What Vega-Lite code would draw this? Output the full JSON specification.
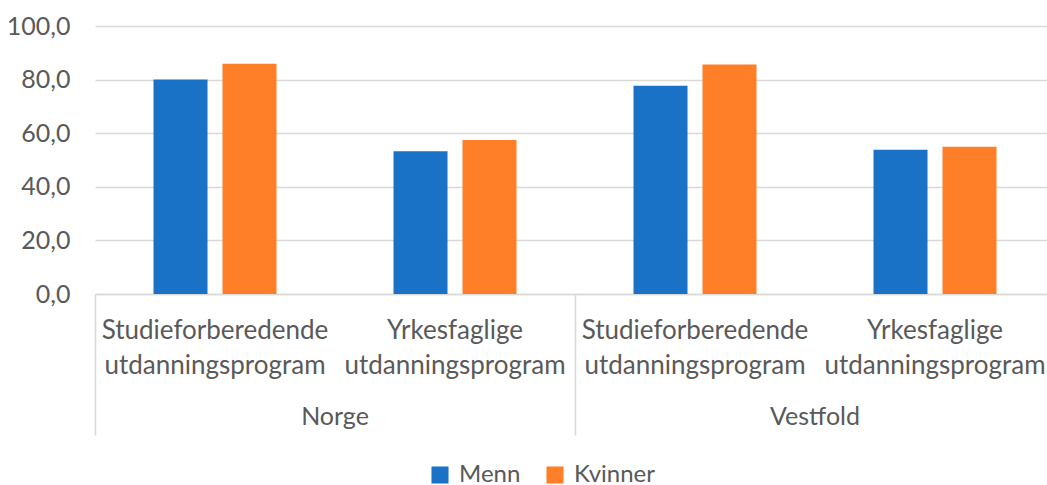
{
  "$schema": "https://vega.github.io/schema/vega-lite/v6.json",
  "autosize": "none",
  "width": 960,
  "height": 268,
  "padding": {"left": 95, "top": 26, "right": 0, "bottom": 191},
  "background": "white",
  "config": {
    "font": "Lato",
    "view": {"stroke": null},
    "axis": {"labelFont": "Lato", "labelColor": "#595959", "labelFontSize": 25}
  },
  "data": {
    "values": [
      {"region": "Norge", "group": "Norge|Studieforberedende", "gender": "Menn", "value": 80.0},
      {"region": "Norge", "group": "Norge|Studieforberedende", "gender": "Kvinner", "value": 85.9},
      {"region": "Norge", "group": "Norge|Yrkesfaglige", "gender": "Menn", "value": 53.3},
      {"region": "Norge", "group": "Norge|Yrkesfaglige", "gender": "Kvinner", "value": 57.5},
      {"region": "Vestfold", "group": "Vestfold|Studieforberedende", "gender": "Menn", "value": 77.7},
      {"region": "Vestfold", "group": "Vestfold|Studieforberedende", "gender": "Kvinner", "value": 85.6},
      {"region": "Vestfold", "group": "Vestfold|Yrkesfaglige", "gender": "Menn", "value": 53.8},
      {"region": "Vestfold", "group": "Vestfold|Yrkesfaglige", "gender": "Kvinner", "value": 54.9}
    ]
  },
  "layer": [
    {
      "mark": {"type": "bar"},
      "encoding": {
        "x": {
          "field": "group",
          "type": "nominal",
          "sort": null,
          "scale": {"paddingInner": 0, "paddingOuter": 0},
          "axis": {
            "title": null,
            "labelAngle": 0,
            "ticks": false,
            "domainColor": "#d9d9d9",
            "domainWidth": 1.5,
            "labelPadding": 23,
            "labelLineHeight": 35,
            "labelBaseline": "top",
            "labelOverlap": false,
            "labelLimit": 0,
            "labelFontSize": 26,
            "labelExpr": "[split(datum.label, '|')[1], 'utdanningsprogram']"
          }
        },
        "xOffset": {
          "field": "gender",
          "type": "nominal",
          "sort": ["Menn", "Kvinner"],
          "scale": {"paddingInner": 0.217, "paddingOuter": 0.848}
        },
        "y": {
          "field": "value",
          "type": "quantitative",
          "scale": {"domain": [0, 100]},
          "axis": {
            "title": null,
            "values": [0, 20, 40, 60, 80, 100],
            "domain": false,
            "ticks": false,
            "labelPadding": 25,
            "labelOverlap": false,
            "gridColor": "#d9d9d9",
            "gridWidth": 1.5,
            "labelExpr": "replace(format(datum.value, '.1f'), '.', ',')"
          }
        },
        "color": {
          "field": "gender",
          "type": "nominal",
          "sort": ["Menn", "Kvinner"],
          "scale": {"domain": ["Menn", "Kvinner"], "range": ["#1972c6", "#fe7f27"]},
          "legend": {
            "title": null,
            "orient": "none",
            "legendX": 333,
            "legendY": 437,
            "direction": "horizontal",
            "symbolType": "square",
            "symbolSize": 290,
            "symbolStrokeWidth": 0,
            "labelFontSize": 24,
            "labelColor": "#595959",
            "labelFont": "Lato",
            "labelOffset": 7,
            "columnPadding": 22,
            "padding": 0
          }
        }
      }
    },
    {
      "mark": {"type": "rule", "opacity": 0},
      "encoding": {
        "x": {
          "field": "region",
          "type": "nominal",
          "scale": {"paddingInner": 0, "paddingOuter": 0},
          "axis": {
            "title": null,
            "orient": "bottom",
            "domain": false,
            "labelAngle": 0,
            "bandPosition": 0,
            "ticks": true,
            "tickSize": 141,
            "tickColor": "#d9d9d9",
            "tickWidth": 1.5,
            "labelPadding": -19,
            "labelFontSize": 25,
            "labelBaseline": "middle",
            "labelFlush": false
          }
        }
      }
    }
  ],
  "resolve": {"scale": {"x": "independent"}, "axis": {"x": "independent"}}
}
